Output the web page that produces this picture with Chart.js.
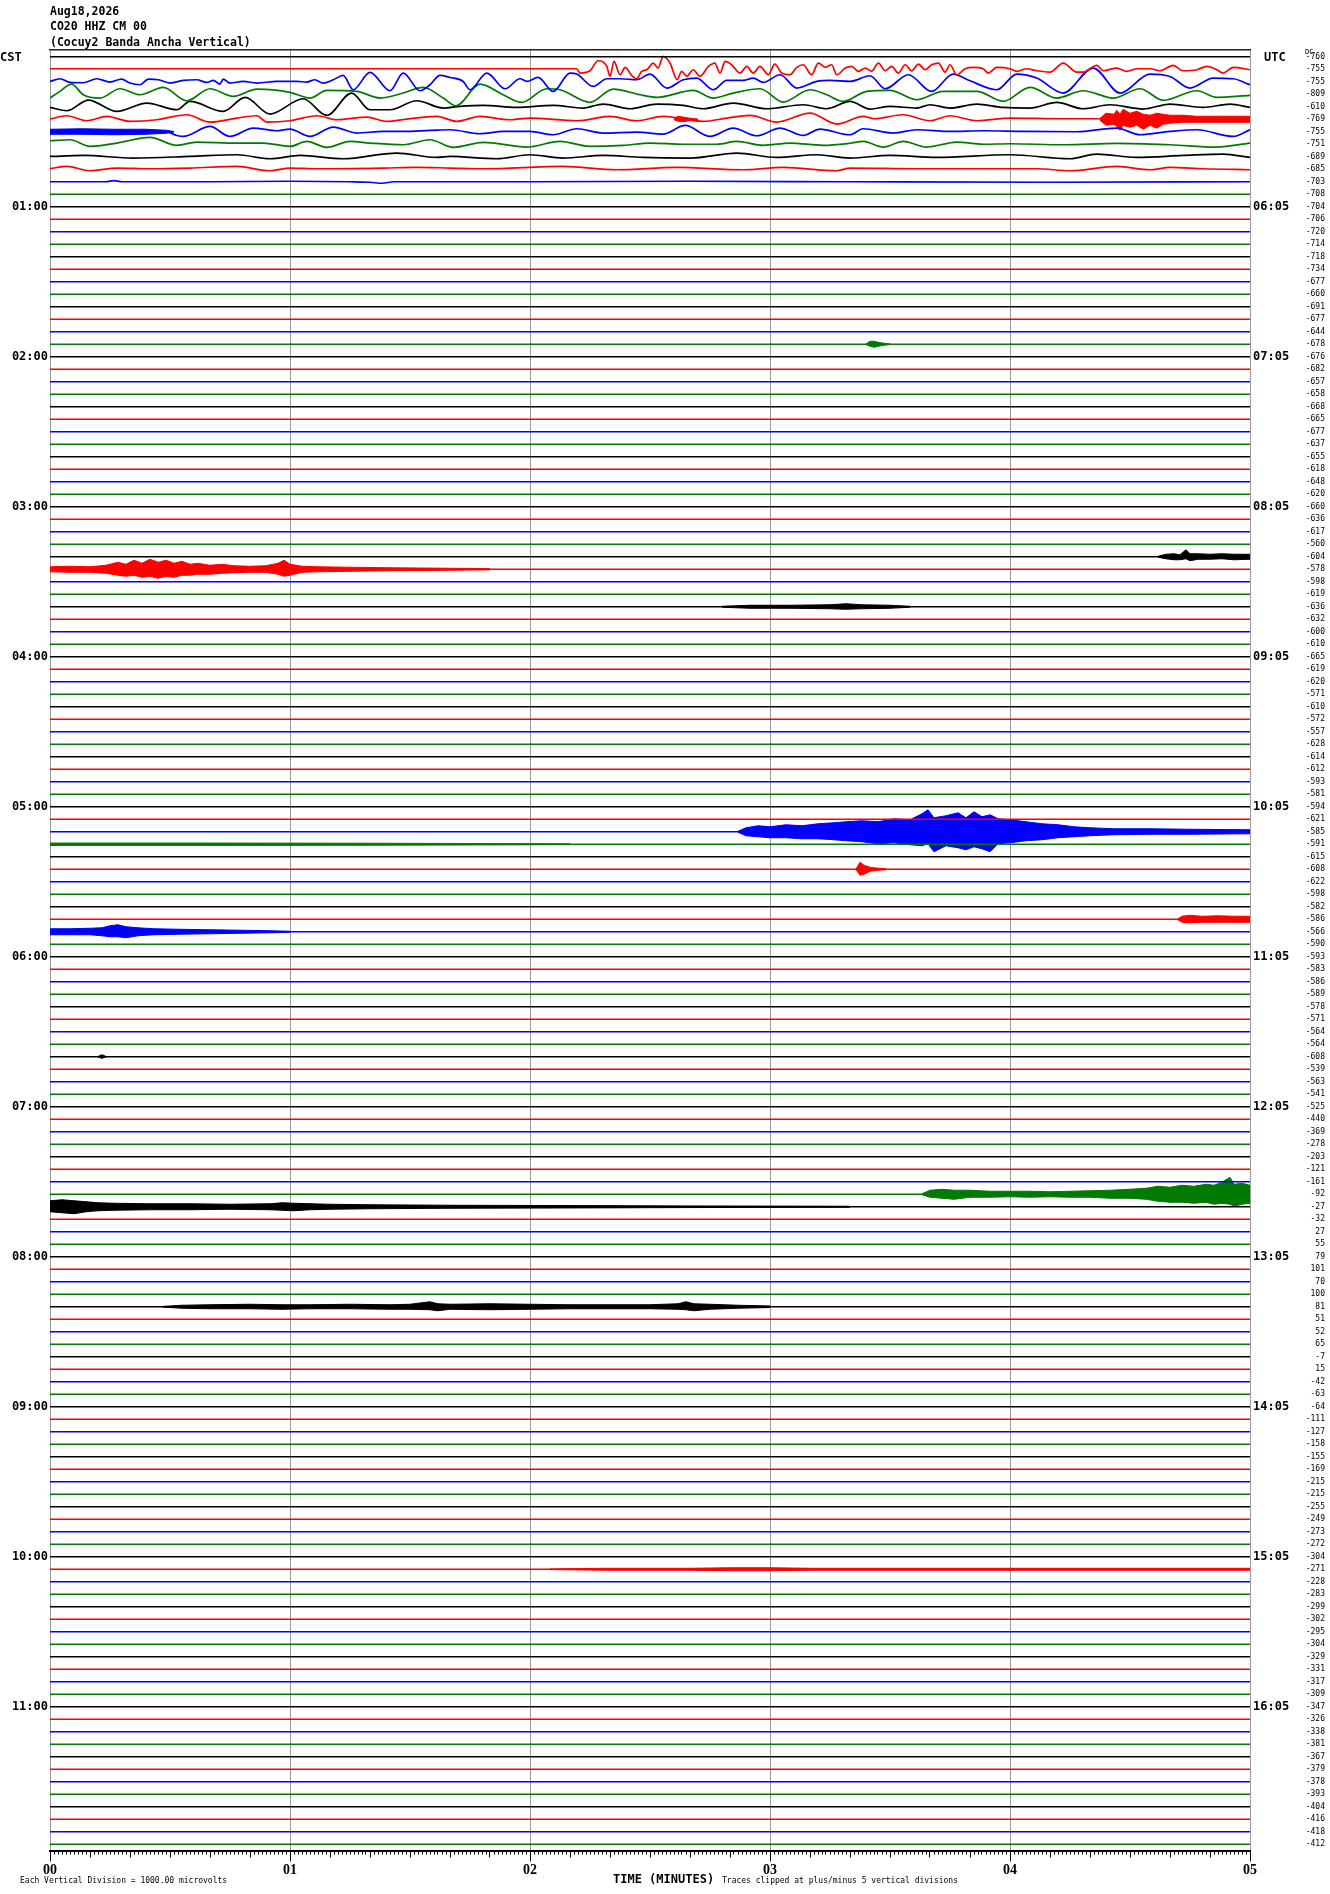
<!DOCTYPE html>
<html>
<head>
<meta charset="utf-8">
<title>CO20 HHZ CM 00 helicorder</title>
<script src="https://cdn.jsdelivr.net/npm/chart.js@4.4.1/dist/chart.umd.min.js"></script>
<style>
  body { margin: 0; background: #fff; }
  #wrap { position: relative; width: 1330px; height: 1894px; overflow: hidden; }
  #heli { position: absolute; left: 0; top: 0; }
  .txt { position: absolute; white-space: pre; color: #000; font-family: "DejaVu Sans Mono", monospace; }
  .title { font-size: 11.5px; line-height: 11.5px; font-weight: bold; }
  .big { font-size: 12px; line-height: 12px; font-weight: bold; }
  .small { font-size: 8px; line-height: 8px; }
</style>
</head>
<body>
<div id="wrap">
  <canvas id="heli" width="1330" height="1894"></canvas>
  <div class="txt title" style="left:50px;top:6px">Aug18,2026</div>
  <div class="txt title" style="left:50px;top:20.7px">CO20 HHZ CM 00</div>
  <div class="txt title" style="left:50px;top:36.5px">(Cocuy2 Banda Ancha Vertical)</div>
  <div class="txt big" style="left:0px;top:51px">CST</div>
  <div class="txt big" style="left:1264px;top:50.5px">UTC</div>
  <div class="txt" style="left:1305px;top:49px;font-size:7px;line-height:7px">DC</div>
  <div class="txt small" style="left:20px;top:1876.7px">Each Vertical Division = 1000.00 microvolts</div>
  <div class="txt big" style="left:613px;top:1873.2px">TIME (MINUTES)</div>
  <div class="txt small" style="left:722px;top:1876.5px">Traces clipped at plus/minus 5 vertical divisions</div>
</div>
<script>
// tick labels
const minuteLabels = ["00", "01", "02", "03", "04", "05"];
const hourLabels = ["01:00", "02:00", "03:00", "04:00", "05:00", "06:00", "07:00", "08:00", "09:00", "10:00", "11:00"];
const utcLabels = ["06:05", "07:05", "08:05", "09:05", "10:05", "11:05", "12:05", "13:05", "14:05", "15:05", "16:05"];

// mean value printed at the right of every 5 minute trace (144 traces)
const traceMeans = [
  -760, -755, -755, -809, -610, -769, -755, -751, -689, -685, -703, -708,
  -704, -706, -720, -714, -718, -734, -677, -660, -691, -677, -644, -678,
  -676, -682, -657, -658, -668, -665, -677, -637, -655, -618, -648, -620,
  -660, -636, -617, -560, -604, -578, -598, -619, -636, -632, -600, -610,
  -665, -619, -620, -571, -610, -572, -557, -628, -614, -612, -593, -581,
  -594, -621, -585, -591, -615, -608, -622, -598, -582, -586, -566, -590,
  -593, -583, -586, -589, -578, -571, -564, -564, -608, -539, -563, -541,
  -525, -440, -369, -278, -203, -121, -161, -92, -27, -32, 27, 55,
  79, 101, 70, 100, 81, 51, 52, 65, -7, 15, -42, -63,
  -64, -111, -127, -158, -155, -169, -215, -215, -255, -249, -273, -272,
  -304, -271, -228, -283, -299, -302, -295, -304, -329, -331, -317, -309,
  -347, -326, -338, -381, -367, -379, -378, -393, -404, -416, -418, -412
];

// long period waves on the first traces: [seconds, amplitude]
const wave01 = [[0,0.5],[131.7,0.5],[132.5,-3.8],[135,-1.5],[137,8.5],[139.2,2.9],[140,-7.1],[141,7.9],[142.5,-5.5],[143.8,1.9],[145.4,-6.1],[146.7,-9.5],[147.9,-2.1],[149.2,-0.5],[150.8,6.2],[152,1.2],[153.3,12.9],[155,6.2],[156.8,-10.5],[157.9,-2.1],[159.2,-7.1],[160.8,-0.5],[162.5,-7.1],[164.6,2.9],[166.2,6.2],[167.5,-3.8],[168.8,7.9],[170.4,4.5],[172.5,-3.8],[174.2,2.9],[175.8,-3.8],[177.5,2.9],[179.6,-5.5],[181.2,5.2],[182.9,-3.8],[185,-5.5],[186.7,1.9],[188.3,4.5],[190.4,-5.5],[192.1,6.2],[193.8,1.9],[195.4,4.5],[196.7,-5.5],[198.8,1.2],[200.4,2.9],[202.1,-2.1],[203.8,1.2],[205.4,-2.1],[207.1,6.2],[208.8,-1.5],[210.4,2.9],[212.1,-3.8],[213.8,4.5],[215.4,-1.5],[217.1,5.2],[218.8,-0.5],[220.4,4.5],[222.1,6.2],[223.8,-2.8],[225,4.5],[226.7,-5.5],[228.8,0.5],[230.8,1.9],[233.3,0.5],[234.6,-3.8],[236.7,1.9],[240,0.5],[241.7,-2.1],[244.2,0.5],[246.7,-1.5],[250,-2.8],[253.3,6.2],[256.7,-2.8],[258.3,-2.8],[261.7,3.9],[263.3,-1.5],[266.7,1.2],[269.2,-2.1],[271.7,0.5],[275,0.5],[277.5,-1.5],[280.8,3.9],[283.3,-1.5],[286.7,-0.5],[289.2,2.9],[291.7,-0.5],[293.3,-3.8],[295.8,1.9],[300,-0.5]];
const wave02 = [[0,0.3],[2.5,3],[5,-0.7],[8.3,-1],[11.7,3],[15,-0.3],[17.9,2.7],[20,-1.3],[22.5,-3],[24.6,2.7],[27.1,2],[30,-1.3],[33.3,1.3],[36.7,2],[39.2,-0.7],[40.8,1.3],[42.5,-2.3],[43.3,2.7],[45,-1.3],[48.3,0.3],[51.7,-1.3],[56.7,0.3],[61.7,0.3],[64.2,-0.3],[66.2,2],[68.3,-1.3],[70.8,2],[73.3,6.3],[75.8,-8],[80,9.3],[85,-9],[88.3,8.7],[92.5,-9],[95,-3],[97.5,6.3],[100,4.3],[103.3,0.3],[105,-8],[109.2,8.7],[113.8,-7],[117.5,3],[119.2,0.3],[122,4.3],[125.8,-9.7],[130,8.7],[131.7,7.7],[135.8,-4.7],[139.2,3],[142.5,3],[146.7,2],[150,7.7],[154.2,-6.3],[158.3,2],[161.7,3.7],[165.8,-8],[169.2,1.3],[173.3,1.3],[175.8,3.7],[178.3,-0.7],[182.5,7],[186.7,-6.3],[191.7,0.3],[195,1.3],[200,0.3],[205,6],[208.8,-7],[214.6,7],[220.4,-9.7],[225.8,7.7],[230,1],[236.7,-8],[241.7,7.7],[246.7,3.7],[253.3,-11.3],[260.8,13.7],[267.5,-11.3],[275,7.7],[280,5.3],[285,-6.3],[290.8,3.7],[295.8,3],[300,-3]];
const wave03 = [[0,-3.8],[2.5,2.9],[5.4,10.2],[8.3,-0.5],[12.5,-3.8],[17.5,5.5],[22.5,-0.5],[28.3,6.9],[34.2,-6.5],[40,5.5],[45.8,-2.1],[51.7,5.2],[60,1.9],[65,-3.8],[69.2,3.9],[76.7,2.9],[82.5,-3.8],[88.3,1.2],[93.3,6.9],[98.3,-3.8],[101.5,-11.5],[107.5,10.2],[113.3,-0.5],[117.9,-8.1],[124.2,5.5],[127.5,4.5],[135,-8.1],[140.8,5.2],[147.5,-0.5],[151.7,-3.1],[160.8,3.9],[165.8,-3.8],[170.8,1.2],[177.5,5.5],[183.3,-7.8],[190,4.5],[194.2,-0.5],[198.3,-7.1],[204.2,2.9],[210,3.9],[216.7,-5.5],[223.3,2.9],[231.7,2.9],[238.3,-7.1],[245,6.9],[251.7,-3.8],[258.3,3.5],[265.8,-3.8],[272.5,5.5],[278.3,-6.1],[286.7,3.5],[291.7,-3.1],[300,-1.1]];
const wave04 = [[0,-0.7],[4.2,-4],[9.6,6.7],[16.7,-4.7],[24.2,3.7],[31.7,-3],[35,5.3],[43.3,-4.7],[48.8,9.3],[55,-7.3],[63.3,8],[69.2,-8.7],[75.4,13.7],[80,-3],[85,-3],[91.7,6],[98.3,-1.3],[102.5,0.3],[108.3,1.3],[116.7,-0.7],[125.8,1.3],[133.3,-1.3],[138.3,2.7],[145,-2],[151.7,2.7],[158.3,1.3],[163.3,-2],[170.8,3.7],[179.2,-2],[188.3,2],[194.2,-2],[200,5.3],[205,-2.3],[210,0.3],[216.7,-1.3],[220,2],[225,-1.3],[231.7,2.7],[238.3,-0.7],[245,-1.3],[251.7,4.3],[258.3,-2],[265,2],[273.3,-2.3],[280,2.7],[288.3,-0.7],[295,2.7],[300,-0.7]];
const wave05 = [[0,0.2],[4.2,3.5],[9.2,-1.5],[14.2,2.9],[20,-2.1],[26.7,-0.5],[34.2,4.5],[40,-2.8],[46.7,1.2],[51.7,3.5],[54.2,-2.8],[60,-1.5],[66.7,3.5],[71.7,-0.5],[79.2,2.2],[84.2,-2.1],[89.2,0.2],[96.7,2.9],[101.7,-2.1],[107.5,2.9],[115,-0.5],[120,1.2],[131.7,-1.5],[140,2.9],[146.7,-1.5],[153.3,2.9],[163.3,-2.1],[169.2,1.2],[175,3.9],[181.7,-2.8],[190,6.2],[196.7,-4.8],[203.3,2.9],[206,0.5],[213.3,4.5],[220,-1.5],[225,3.5],[231.7,-1.5],[240,1.2],[253.3,0.5],[300,0.5]];
const wave06 = [[0,0],[29,0],[31.7,-3.7],[33.3,-4.7],[40,5.3],[45,-4.7],[50.8,3.7],[56.7,1],[60,2.7],[65,-4.7],[70.8,4.7],[76.7,-1.3],[83.3,0.3],[88.3,0.3],[95,1.3],[100,2],[107.5,-2],[113.3,0.3],[120,0.3],[125.8,-3],[131.7,3],[138.3,-1.3],[146.7,-0.3],[153.3,-2.3],[158.8,6.3],[165,-4.7],[170.8,3.7],[176.7,-4],[182.5,3.7],[188.3,-3.7],[192.5,2.7],[198.3,-2.3],[200,-3],[203.3,3],[210.8,-1.3],[216.7,2],[225,0.3],[233.3,1],[243.3,0.3],[256.7,0],[266.7,3.7],[272.5,-3],[280,0.3],[286.7,2],[295.8,-4.7],[300,2]];
const wave07 = [[0,3.5],[5,4.5],[10,-2.1],[16.7,1.2],[25,6.9],[31.7,-1.1],[36.7,2.2],[46.7,1.2],[53.3,1.2],[60,-2.1],[64.2,2.9],[69.2,-3.1],[75,2.9],[80,1.2],[88.3,-0.5],[95,4.5],[100.8,-3.1],[108.3,1.9],[119.2,-2.8],[127.5,2.9],[135,-2.1],[143.3,-1.1],[150,1.2],[158.3,0],[166.7,0],[171.7,2.9],[178.3,-1.1],[185,1.2],[193.3,-1.1],[200,1],[203.3,2.9],[208.3,-2.8],[213.3,2.9],[219.2,-2.8],[226.7,2.2],[233.3,0],[240,0.5],[253.3,-0.5],[266.7,0.9],[280,-0.5],[291.7,-2.8],[300,1.2]];
const wave08 = [[0,0.3],[8.3,1.3],[20.8,-1.3],[35,0.3],[46.7,2],[55,-2],[62.5,1.3],[73.3,-2],[86.7,3.7],[96.7,-0.7],[100,0.3],[111.7,-2],[120,2],[128.3,-1.3],[138.3,1.3],[148.3,-0.7],[160,-1.3],[171.7,3.7],[181.7,-0.7],[191.7,2],[200,-1.3],[210,1.3],[221.7,-0.7],[240,2],[255,-2],[261.7,2.7],[271.7,-0.7],[283.3,1.3],[293.3,2.7],[300,-0.7]];
const wave09 = [[0,0.5],[4.2,2.9],[10,-1.5],[16.7,1.2],[25,0.5],[35,1.2],[46.7,2.9],[55,-1.5],[60,1.2],[66.7,0.5],[83.3,1.2],[91.7,1.9],[100,1.2],[108.3,0.5],[128.3,2.9],[141.7,-0.5],[156.7,1.9],[173.3,-0.5],[183.3,1.9],[196.7,-1.5],[200,1.2],[216.7,0.5],[235,0.5],[246.7,0.5],[255,-1.5],[266.7,2.9],[275,-0.5],[280,1.9],[288.3,0.5],[300,-0.5]];
const wave10 = [[0,0],[14,0],[16,1.2],[18,0],[40,0],[60,0.5],[75,0],[80,-0.5],[83,-1.5],[86,0],[120,0],[160,0.5],[200,0],[250,-0.5],[300,0]];
const waves = { 1: wave01, 2: wave02, 3: wave03, 4: wave04, 5: wave05, 6: wave06, 7: wave07, 8: wave08, 9: wave09, 10: wave10 };

// envelopes of the bursts: [seconds, amplitude up, amplitude down]
const burst05a = [[156,0.5,0.5],[157,3,2],[158.5,2,2.5],[160,1,1],[162,0.3,0.3]];
const burst05 = [[262.5,1,1],[264,6,6],[266,5,5],[266.7,9,7],[267.5,5,11],[268.3,10,6],[270,6,8],[271.7,8,6],[273.3,5,10],[275,4,6],[276.7,6,9],[278.3,5,5],[280,4,4],[283.3,4,3],[286.7,3,3],[291.7,3,3],[300,3,3]];
const burst06 = [[0,2.5,2.5],[8,3,2.5],[16,2.5,3],[24,2.5,2.5],[29,1.5,1.5],[31,0.3,0.3]];
const burst23 = [[204,0.3,0.3],[205,3,2],[206,3,3],[207,2,2],[208.5,1,1],[210,0.3,0.3]];
const burst40 = [[277,0.5,0.5],[279,2.5,2],[281,3,3],[282.5,2,3],[284,7,2],[285,3,4],[287,3,2.5],[290,2.5,2.5],[293,3,2],[296,2.5,3],[300,2.5,2.5]];
const burst41 = [[0,2.5,2.5],[5,3,3],[10,2.5,3],[14,4,4],[17,7,6],[19,5,7],[21,9,6],[23,6,8],[25,10,7],[27,7,9],[29,9,7],[31,6,8],[33,8,6],[35,5,6],[37,6,5],[40,4,5],[43,5,4],[46,3.5,3.5],[50,3,3],[54,3.5,3],[57,6,5],[58.5,9,7],[60,5,6],[63,3,3],[67,2.5,2.5],[75,2,2],[85,1.5,1.5],[100,1,1],[110,0.6,0.6]];
const burst44 = [[168,0.5,0.5],[175,1.5,1.5],[185,1.5,1.5],[195,2,2],[199,3,2.5],[203,2,2],[210,1.5,1.5],[215,0.5,0.5]];
const burst62 = [[172,0.5,0.5],[174,4,4],[177,6,5],[180,5,6],[184,7,6],[188,6,7],[192,8,7],[196,9,8],[199,10,9],[203,11,10],[207,10,12],[211,13,11],[215,12,13],[218,18,14],[219.5,22,12],[221,14,20],[224,16,14],[227,19,16],[229,14,18],[231,20,15],[233,15,17],[235,17,20],[237,13,12],[240,12,11],[244,10,9],[248,8,8],[252,7,6],[256,5,5],[260,4,4],[266,3,3],[275,3,2.5],[285,2.5,2.5],[300,2,2]];
const burst63 = [[0,1.2,1.2],[40,1.2,1.2],[80,1,1],[100,0.8,0.8],[130,0.4,0.4]];
const burst65 = [[201.5,0.3,0.3],[202.5,7,6],[203.5,4,5],[205,2,2],[207,1,1],[209,0.5,0.5]];
const burst69 = [[282,0.5,0.5],[283,3,3],[285,4,3.5],[288,3,3],[292,3.5,3],[296,3,3],[300,3,3]];
const burst70 = [[0,3,3],[5,3,3],[10,3.5,3],[13,4,4],[15,6,5],[17,7,5],[19,5,6],[22,4,4],[26,3,3],[32,2.5,2.5],[40,2,2],[48,1.5,1.5],[55,1,1],[60,0.5,0.5]];
const burst80 = [[12,0.3,0.3],[13,2,1.5],[14,0.3,0.3]];
const burst91 = [[218,0.5,0.5],[220,4,3],[223,5,4],[226,4,5],[230,4,3],[235,3,3],[240,3,2.5],[245,3,3],[250,2.5,2.5],[255,3,3],[260,3.5,3],[265,4,4],[270,5,4],[274,6,5],[277,8,7],[280,7,8],[283,9,8],[286,8,9],[289,10,8],[291,9,10],[293,12,9],[295,17,10],[296,10,12],[298,11,10],[300,9,9]];
const burst92 = [[0,6,5],[3,7,6],[6,6,7],[9,5,5],[12,4,4],[16,3.5,3.5],[25,3,3],[35,3,3],[45,2.5,2.5],[55,3,3],[58,4,3.5],[61,3.5,4],[65,3,3],[70,2.5,2.5],[80,2,2],[100,1.5,1.5],[130,1.2,1.2],[160,0.8,0.8],[200,0.5,0.5]];
const burst100 = [[28,0.3,0.3],[33,1.5,1.5],[40,2,2],[50,2.5,2],[58,2,2.5],[65,2,2],[75,2.5,2],[85,2,2.5],[90,2.5,2.5],[95,5,3],[97,3,4],[100,2.5,2.5],[110,3,3],[120,2.5,2.5],[130,2,2],[140,2,2],[150,2,2],[157,3,2.5],[159,5,3],[161,3,4],[165,2.5,2.5],[172,1.5,1.5],[180,0.8,0.8]];
const burst121 = [[125,0.3,0.3],[139,1,1],[160,1,1],[170,1.5,1.5],[180,1.5,1.5],[190,1,1],[220,1,1],[260,1,1],[300,1,1]];
const bursts = [[5, burst05a], [5, burst05], [6, burst06], [23, burst23], [40, burst40], [41, burst41], [44, burst44],
  [62, burst62], [63, burst63], [65, burst65], [69, burst69], [70, burst70], [80, burst80], [91, burst91],
  [92, burst92], [100, burst100], [121, burst121]];

// trace colours cycle black, red, blue, green
const traceColors = ["#000000", "#ff0000", "#0000ff", "#007a00"];
const ROW = 12.5; // amplitudes above are read in pixels; one trace row is 12.5 of them

const datasets = [];
traceMeans.forEach((m, i) => {
  const w = waves[i] || [[0, 0], [300, 0]];
  datasets.push({
    data: w.map(([t, a]) => ({ x: t, y: i - a / ROW })),
    borderColor: traceColors[i % 4],
    borderWidth: 1.7,
    pointRadius: 0,
    cubicInterpolationMode: "monotone",
    fill: false,
    xAxisID: "x",
    yAxisID: "y"
  });
});

bursts.forEach(([i, env]) => {
  const color = traceColors[i % 4];
  datasets.push({
    data: env.map(([t, up]) => ({ x: t, y: i - up / ROW })),
    borderColor: color, borderWidth: 1, pointRadius: 0, fill: false,
    xAxisID: "x", yAxisID: "y"
  });
  datasets.push({
    data: env.map(([t, , dn]) => ({ x: t, y: i + dn / ROW })),
    borderColor: color, backgroundColor: color, borderWidth: 1, pointRadius: 0, fill: "-1",
    xAxisID: "x", yAxisID: "y"
  });
});

const rowRange = { min: -0.54, max: 143.5, reverse: true };
const noGrid = { display: false, drawTicks: false };
const noBorder = { display: false };

function tickAxis(step, len) {
  return {
    type: "linear", position: "bottom", min: 0, max: 300, weight: -1,
    afterBuildTicks: s => {
      const t = [];
      for (let v = 0; v <= 300; v += step) t.push({ value: v });
      s.ticks = t;
    },
    afterFit: s => { s.height = 0; },
    grid: { drawOnChartArea: false, tickLength: len, tickColor: "#000", tickWidth: 1 },
    border: noBorder,
    ticks: { display: false, autoSkip: false }
  };
}

new Chart(document.getElementById("heli"), {
  type: "line",
  data: { datasets },
  options: {
    responsive: false,
    animation: false,
    devicePixelRatio: 1,
    layout: { padding: { top: 50, left: 0, right: 5, bottom: 0 } },
    plugins: { legend: { display: false }, tooltip: { enabled: false } },
    scales: {
      x: {
        type: "linear", position: "bottom", min: 0, max: 300, weight: 1,
        afterBuildTicks: s => { s.ticks = minuteLabels.map((_, k) => ({ value: k * 60 })); },
        afterFit: s => { s.height = 43.5; },
        grid: { color: "#9a9a9a", lineWidth: 1, tickColor: "#000", tickLength: 11, tickWidth: 1 },
        border: { color: "#000", width: 2 },
        ticks: {
          autoSkip: false, maxRotation: 0, padding: 0, color: "#000",
          font: { family: "Liberation Serif", size: 14, weight: "bold" },
          callback: (v, k) => minuteLabels[k]
        }
      },
      xs: tickAxis(1, 4),
      x10: tickAxis(10, 7),
      xt: {
        type: "linear", position: "top", min: 0, max: 300,
        afterFit: s => { s.height = 0; },
        grid: noGrid,
        border: { color: "#222", width: 1.5 },
        ticks: { display: false }
      },
      y: {
        type: "linear", position: "left", ...rowRange,
        afterBuildTicks: s => { s.ticks = hourLabels.map((_, k) => ({ value: (k + 1) * 12 })); },
        afterFit: s => { s.width = 50; },
        grid: noGrid, border: noBorder,
        ticks: {
          autoSkip: false, padding: 2, color: "#000",
          font: { family: "DejaVu Sans Mono", size: 12, weight: "bold" },
          callback: (v, k) => hourLabels[k]
        }
      },
      yU: {
        type: "linear", position: "right", weight: 0, ...rowRange,
        afterBuildTicks: s => { s.ticks = utcLabels.map((_, k) => ({ value: (k + 1) * 12 })); },
        afterFit: s => { s.width = 55; },
        grid: noGrid, border: noBorder,
        ticks: {
          autoSkip: false, padding: 3, color: "#000",
          font: { family: "DejaVu Sans Mono", size: 12, weight: "bold" },
          callback: (v, k) => utcLabels[k]
        }
      },
      yN: {
        type: "linear", position: "right", weight: 1, ...rowRange,
        afterBuildTicks: s => { s.ticks = traceMeans.map((_, i) => ({ value: i })); },
        afterFit: s => { s.width = 20; },
        grid: noGrid, border: noBorder,
        ticks: {
          autoSkip: false, padding: 0, crossAlign: "far", color: "#000",
          font: { family: "DejaVu Sans Mono", size: 8 },
          callback: (v, k) => String(traceMeans[k])
        }
      }
    }
  }
});
</script>
</body>
</html>
